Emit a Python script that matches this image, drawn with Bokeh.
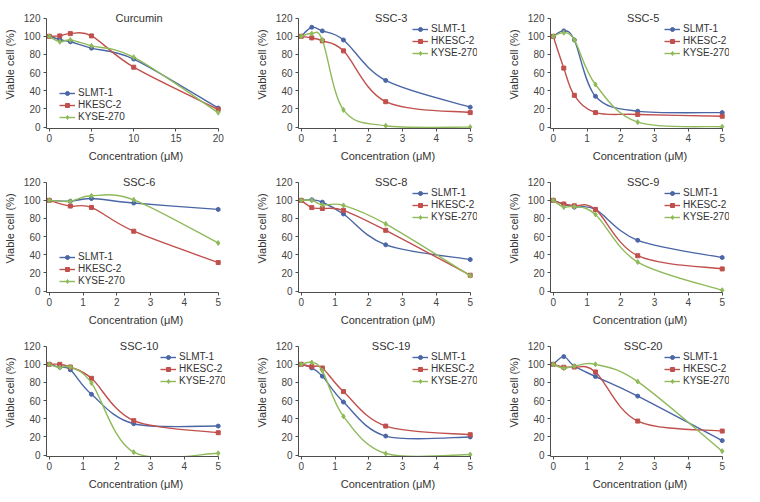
from bokeh.plotting import figure
from bokeh.layouts import gridplot
from bokeh.models import (ColumnDataSource, Range1d, FixedTicker, Label, Legend, LegendItem)
from bokeh.embed import file_html
from bokeh.resources import INLINE

# ---------------- data ----------------
series_names = ["SLMT-1", "HKESC-2", "KYSE-270"]
colors = ["#4a66a6", "#c0504d", "#8fba5a"]
markers = ["circle", "square", "diamond"]

conc_curcumin = [0, 1.25, 2.5, 5, 10, 20]
conc_ssc = [0, 0.3125, 0.625, 1.25, 2.5, 5]
conc_ssc6 = [0, 0.625, 1.25, 2.5, 5]

curcumin_slmt = [100, 96.5, 94, 87, 75, 21]
curcumin_hkesc = [100, 100.5, 103, 100.5, 66, 19.5]
curcumin_kyse = [100, 94, 96, 89.5, 77, 16]

ssc3_slmt = [100, 110, 106, 96, 51.4, 22]
ssc3_hkesc = [100, 98.3, 95, 84, 28, 16]
ssc3_kyse = [100, 103, 96, 19, 1.5, 0]

ssc5_slmt = [100, 106, 96, 34, 17.6, 16]
ssc5_hkesc = [100, 65, 35, 16, 14, 12]
ssc5_kyse = [100, 104, 96, 47, 5.5, 0.5]

ssc6_slmt = [100, 99, 102, 97, 90]
ssc6_hkesc = [100, 93.7, 92.2, 66, 31.5]
ssc6_kyse = [100, 99, 105, 100.6, 53]

ssc8_slmt = [100, 100.6, 98, 85, 51, 34.8]
ssc8_hkesc = [100, 92, 91, 89, 67, 17.5]
ssc8_kyse = [100, 100, 95, 94.4, 74, 17]

ssc9_slmt = [100, 95.5, 92.5, 90, 56, 37]
ssc9_hkesc = [100, 96, 94, 90, 39, 24.5]
ssc9_kyse = [100, 92.5, 93, 84.5, 32, 1]

ssc10_slmt = [100, 96.8, 94, 67, 34.6, 32]
ssc10_hkesc = [100, 100, 97, 84.6, 38, 24.7]
ssc10_kyse = [100, 96.4, 97, 79.5, 3.3, 2]

ssc19_slmt = [100, 96, 87, 58.5, 21, 20]
ssc19_hkesc = [100, 97.5, 96, 70, 32, 22.5]
ssc19_kyse = [100, 102, 93, 42.7, 1.8, 0.7]

ssc20_slmt = [100, 108.5, 98, 86.6, 65, 16]
ssc20_hkesc = [100, 96.8, 97, 91.6, 37.5, 26.5]
ssc20_kyse = [100, 95.7, 98, 100, 81, 4.4]

titles = ["Curcumin", "SSC-3", "SSC-5", "SSC-6", "SSC-8", "SSC-9", "SSC-10", "SSC-19", "SSC-20"]
y_ticks = [0, 20, 40, 60, 80, 100, 120]
x_ticks_curcumin = [0, 5, 10, 15, 20]
x_ticks_ssc = [0, 1, 2, 3, 4, 5]

panels = [
    (titles[0], conc_curcumin, [curcumin_slmt, curcumin_hkesc, curcumin_kyse], x_ticks_curcumin, "low"),
    (titles[1], conc_ssc, [ssc3_slmt, ssc3_hkesc, ssc3_kyse], x_ticks_ssc, "high"),
    (titles[2], conc_ssc, [ssc5_slmt, ssc5_hkesc, ssc5_kyse], x_ticks_ssc, "high"),
    (titles[3], conc_ssc6, [ssc6_slmt, ssc6_hkesc, ssc6_kyse], x_ticks_ssc, "low"),
    (titles[4], conc_ssc, [ssc8_slmt, ssc8_hkesc, ssc8_kyse], x_ticks_ssc, "high"),
    (titles[5], conc_ssc, [ssc9_slmt, ssc9_hkesc, ssc9_kyse], x_ticks_ssc, "high"),
    (titles[6], conc_ssc, [ssc10_slmt, ssc10_hkesc, ssc10_kyse], x_ticks_ssc, "high"),
    (titles[7], conc_ssc, [ssc19_slmt, ssc19_hkesc, ssc19_kyse], x_ticks_ssc, "high"),
    (titles[8], conc_ssc, [ssc20_slmt, ssc20_hkesc, ssc20_kyse], x_ticks_ssc, "high"),
]

FONT = "Liberation Sans"
AX = "#4d4d4d"
FRAME_W = 179
FRAME_H = 128
Y0, Y1 = -1.5, -1.5 + FRAME_H / 0.908


def smooth_segments(xs, ys):
    n = len(xs)
    cols = {k: [] for k in ["x0", "y0", "x1", "y1", "cx0", "cy0", "cx1", "cy1"]}
    for i in range(n - 1):
        i0 = max(i - 1, 0)
        i3 = min(i + 2, n - 1)
        cols["x0"].append(xs[i]); cols["y0"].append(ys[i])
        cols["x1"].append(xs[i + 1]); cols["y1"].append(ys[i + 1])
        cols["cx0"].append(xs[i] + (xs[i + 1] - xs[i0]) / 6.0)
        cols["cy0"].append(ys[i] + (ys[i + 1] - ys[i0]) / 6.0)
        cols["cx1"].append(xs[i + 1] - (xs[i3] - xs[i]) / 6.0)
        cols["cy1"].append(ys[i + 1] - (ys[i3] - ys[i]) / 6.0)
    return cols


figs = []
for title, xs, ys_list, xticks, legpos in panels:
    xmax = xticks[-1]
    pad_l = 0.016 * xmax
    span = xmax * FRAME_W / 169.0
    x0 = -pad_l
    x1 = x0 + span
    p = figure(frame_width=FRAME_W, frame_height=FRAME_H,
               min_border_left=42, min_border_right=27, min_border_top=0, min_border_bottom=34,
               x_range=Range1d(x0, x1), y_range=Range1d(Y0, Y1),
               output_backend="svg", toolbar_location=None)
    p.outline_line_color = None
    p.grid.visible = False
    p.background_fill_color = "white"
    p.border_fill_color = "white"

    for ax in (p.xaxis[0], p.yaxis[0]):
        ax.axis_line_color = AX
        ax.major_tick_line_color = AX
        ax.minor_tick_line_color = None
        ax.major_tick_in = 0
        ax.major_tick_out = 3
        ax.major_label_text_font = FONT
        ax.major_label_text_font_size = "10px"
        ax.major_label_text_color = "#444444"
        ax.axis_label_text_font = FONT
        ax.axis_label_text_font_size = "11px"
        ax.axis_label_text_font_style = "normal"
        ax.axis_label_text_color = "#333333"
    p.xaxis[0].ticker = FixedTicker(ticks=xticks)
    p.yaxis[0].ticker = FixedTicker(ticks=y_ticks)
    p.xaxis[0].bounds = (x0, xmax)
    p.yaxis[0].bounds = (Y0, 120)
    p.xaxis[0].major_label_standoff = 2
    p.yaxis[0].major_label_standoff = 3
    p.xaxis[0].axis_label_standoff = 5
    p.yaxis[0].axis_label_standoff = 5
    p.xaxis[0].axis_label = "Concentration (\u03bcM)"
    p.yaxis[0].axis_label = "Viable cell (%)"

    items = []
    for name, ys, col, mk in zip(series_names, ys_list, colors, markers):
        src = ColumnDataSource(smooth_segments(xs, ys))
        p.bezier(x0="x0", y0="y0", x1="x1", y1="y1", cx0="cx0", cy0="cy0",
                 cx1="cx1", cy1="cy1", source=src, line_color=col, line_width=1.4)
        sr = p.scatter(xs, ys, marker=mk, size=4 if mk != "diamond" else 5,
                       fill_color=col, line_color=col)
        lr = p.line(x=[float("nan")], y=[float("nan")], line_color=col, line_width=1.4)
        items.append(LegendItem(label=name, renderers=[lr, sr]))

    loc = (114, 70) if legpos == "high" else (13, 6)
    leg = Legend(items=items, location=loc, orientation="vertical",
                 label_text_font=FONT, label_text_font_size="10px", label_text_color="#333333",
                 glyph_width=16, glyph_height=10, label_height=10, label_standoff=3,
                 spacing=1, padding=0, margin=0,
                 background_fill_alpha=0, border_line_alpha=0)
    p.add_layout(leg, "center")

    p.add_layout(Label(x=(xmax * 0.532), y=120, text=title, text_align="center",
                       text_baseline="middle", text_font=FONT, text_font_size="11px",
                       text_color="#333333"))
    figs.append(p)

grid = gridplot(figs, ncols=3, toolbar_location=None)
open("out.html", "w").write(file_html(grid, INLINE))
